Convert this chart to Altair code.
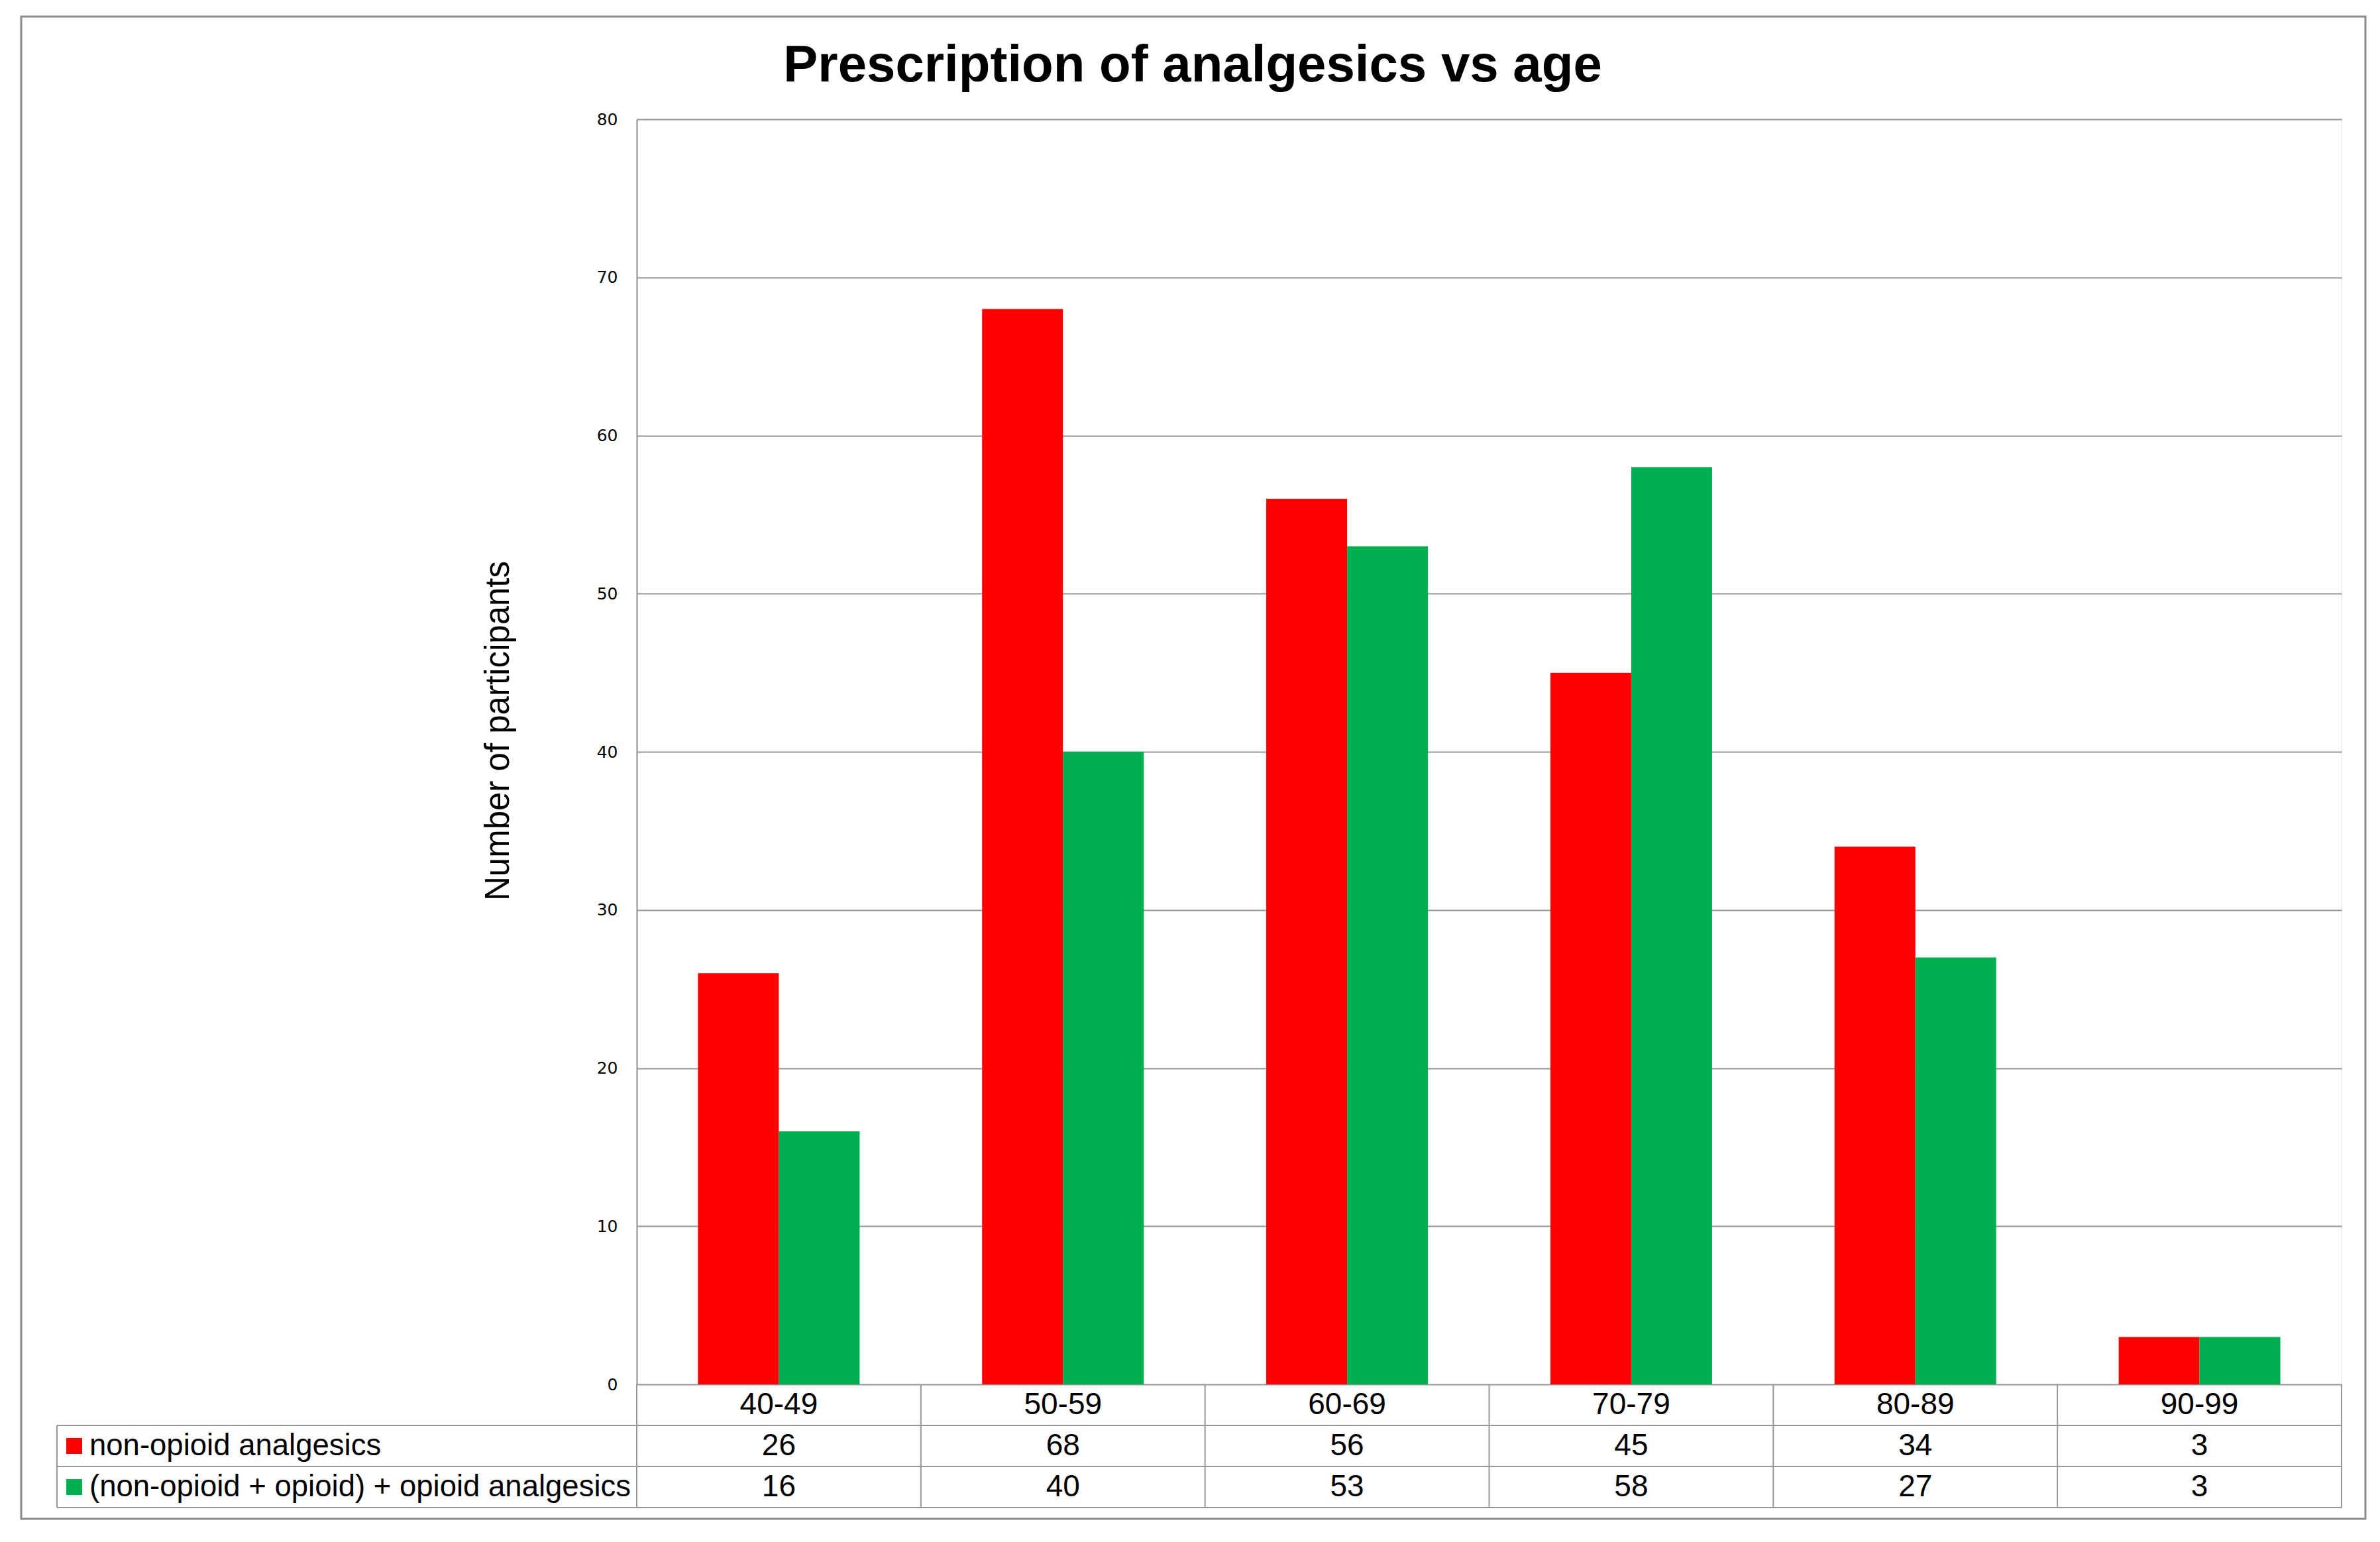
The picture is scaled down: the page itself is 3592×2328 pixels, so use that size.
import altair as alt
import pandas as pd

# ---- data ----
categories = ["40-49", "50-59", "60-69", "70-79", "80-89", "90-99"]
non_opioid = [26, 68, 56, 45, 34, 3]
combined = [16, 40, 53, 58, 27, 3]
series_names = ["non-opioid analgesics", "(non-opioid + opioid) + opioid analgesics"]
series_colors = ["#FF0000", "#00B050"]
y_ticks = [0, 10, 20, 30, 40, 50, 60, 70, 80]
row_keys = ["header", "s1", "s2"]
title_text = "Prescription of analgesics vs age"
y_title = "Number  of participants"

# ---- layout (pixels) ----
W, H = 2573, 1910
RH = 62
TABLE_TOP = H
TABLE_BOTTOM = H + 3 * RH
TABLE_LEFT = -875
LINE = "#969696"
BORDER = "#8c8c8c"
TFS = 46
LFS = 45.5

rows = []
for c, a, b in zip(categories, non_opioid, combined):
    rows.append({"cat": c, "series": series_names[0], "value": a, "row": "s1"})
    rows.append({"cat": c, "series": series_names[1], "value": b, "row": "s2"})
df = pd.DataFrame(rows)
cat_df = pd.DataFrame({"cat": categories, "row": ["header"] * len(categories)})
ser_df = pd.DataFrame({"series": series_names, "row": ["s1", "s2"]})
one = pd.DataFrame({"k": [0]})
last_df = pd.DataFrame({"cat": [categories[-1]]})
hrow_df = pd.DataFrame({"row": ["s1", "s2"]})
bottom_df = pd.DataFrame({"row": ["s2"]})

color_scale = alt.Scale(domain=series_names, range=series_colors)
table_x = alt.Scale(domain=categories, paddingInner=0, paddingOuter=0)
row_scale = alt.Scale(domain=row_keys, range=[TABLE_TOP, TABLE_BOTTOM], paddingInner=0, paddingOuter=0)

bars = alt.Chart(df).mark_bar().encode(
    x=alt.X("cat:N", sort=categories, axis=None,
            scale=alt.Scale(domain=categories, paddingInner=0.431, paddingOuter=0.2155)),
    xOffset=alt.XOffset("series:N", sort=series_names,
                        scale=alt.Scale(domain=series_names, paddingInner=0, paddingOuter=0)),
    y=alt.Y("value:Q", scale=alt.Scale(domain=[0, 80], nice=False),
            axis=alt.Axis(values=y_ticks, grid=True, gridColor=LINE, gridWidth=2,
                          ticks=False, domainColor=BORDER, domainWidth=2,
                          labelFont="DejaVu Sans", labelFontSize=25, labelColor="black",
                          labelPadding=29, title=y_title, titleFont="Liberation Sans",
                          titleFontSize=51, titleFontWeight="normal", titleColor="black",
                          titleX=-194, titleY=923, titleBaseline="alphabetic",
                          titleAlign="center", titleAngle=270)),
    color=alt.Color("series:N", scale=color_scale, legend=None),
)

header_text = alt.Chart(cat_df).mark_text(
    font="Liberation Sans", fontSize=TFS, color="black", align="center", baseline="middle"
).encode(
    x=alt.X("cat:N", scale=table_x, axis=None, sort=categories),
    y=alt.Y("row:N", scale=row_scale, axis=None),
    text="cat:N",
)

value_text = alt.Chart(df).mark_text(
    font="Liberation Sans", fontSize=TFS, color="black", align="center", baseline="middle"
).encode(
    x=alt.X("cat:N", scale=table_x, axis=None, sort=categories),
    y=alt.Y("row:N", scale=row_scale, axis=None),
    text="value:Q",
)

legend_sq = alt.Chart(ser_df).mark_square(size=576, opacity=1, filled=True).encode(
    x=alt.value(-849),
    y=alt.Y("row:N", scale=row_scale, axis=None),
    color=alt.Color("series:N", scale=color_scale, legend=None),
)

legend_text = alt.Chart(ser_df).mark_text(
    font="Liberation Sans", fontSize=LFS, color="black", align="left", baseline="middle"
).encode(
    x=alt.value(-826),
    y=alt.Y("row:N", scale=row_scale, axis=None),
    text="series:N",
)

vrules = alt.Chart(cat_df).mark_rule(color=LINE, strokeWidth=2).encode(
    x=alt.X("cat:N", scale=table_x, axis=None, sort=categories, bandPosition=0),
    y=alt.value(TABLE_TOP),
    y2=alt.value(TABLE_BOTTOM),
)

vrule_last = alt.Chart(last_df).mark_rule(color=LINE, strokeWidth=2).encode(
    x=alt.X("cat:N", scale=table_x, axis=None, sort=categories, bandPosition=1),
    y=alt.value(TABLE_TOP),
    y2=alt.value(TABLE_BOTTOM),
)

vrule_left = alt.Chart(one).mark_rule(color=LINE, strokeWidth=2).encode(
    x=alt.value(TABLE_LEFT),
    y=alt.value(TABLE_TOP + RH),
    y2=alt.value(TABLE_BOTTOM),
)

hrules = alt.Chart(hrow_df).mark_rule(color=LINE, strokeWidth=2).encode(
    y=alt.Y("row:N", scale=row_scale, axis=None, bandPosition=0),
    x=alt.value(TABLE_LEFT),
    x2=alt.value(W),
)

hrule_bottom = alt.Chart(bottom_df).mark_rule(color=LINE, strokeWidth=2).encode(
    y=alt.Y("row:N", scale=row_scale, axis=None, bandPosition=1),
    x=alt.value(TABLE_LEFT),
    x2=alt.value(W),
)

title = alt.Chart(one).mark_text(
    font="Liberation Sans", fontSize=78, fontWeight="bold", color="black",
    align="center", baseline="alphabetic"
).encode(
    x=alt.value(839), y=alt.value(-57), text=alt.value(title_text)
)

border = alt.Chart(one).mark_rect(filled=False, stroke=BORDER, strokeWidth=3).encode(
    x=alt.value(-929), x2=alt.value(2609), y=alt.value(-155), y2=alt.value(2113)
)

chart = alt.layer(
    bars, header_text, value_text, legend_sq, legend_text,
    vrules, vrule_last, vrule_left, hrules, hrule_bottom, title, border
).resolve_scale(
    x="independent", y="independent"
).properties(
    width=W, height=H,
    autosize=alt.AutoSizeParams(type="none"),
    padding={"left": 953, "top": 172, "right": 50, "bottom": 230},
).configure_view(strokeWidth=0).configure(background="white")

chart.save("out.html", embed_options={"renderer": "svg", "actions": False})
